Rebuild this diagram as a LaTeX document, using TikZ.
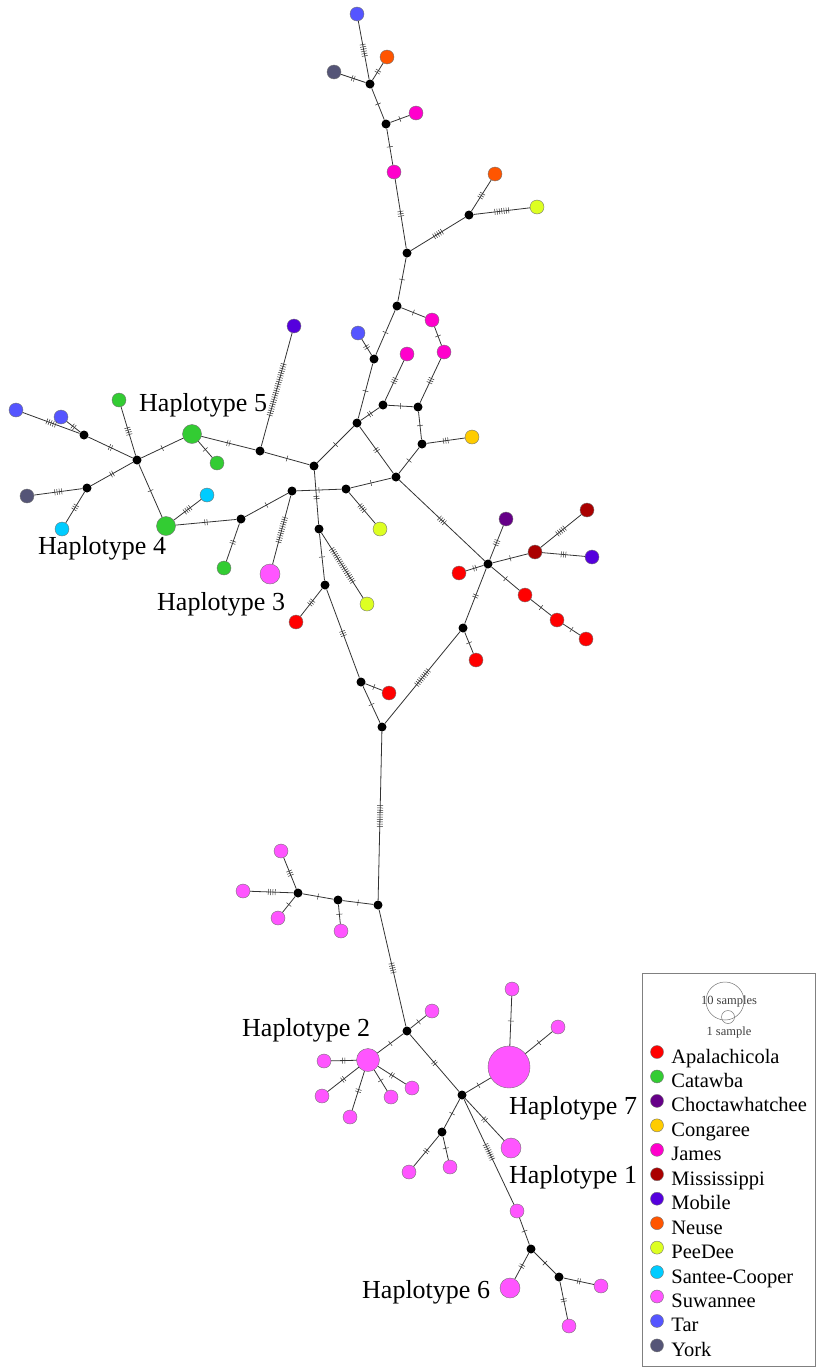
\documentclass[tikz,border=0pt]{standalone}
\usepackage{fontspec}
\setmainfont{Liberation Serif}
\usetikzlibrary{decorations.markings}

\definecolor{apalachicola}{HTML}{FF0000}
\definecolor{catawba}{HTML}{33CC33}
\definecolor{choctaw}{HTML}{660088}
\definecolor{congaree}{HTML}{FFCC00}
\definecolor{james}{HTML}{FF00CC}
\definecolor{mississippi}{HTML}{AA0000}
\definecolor{mobile}{HTML}{5500DD}
\definecolor{neuse}{HTML}{FF5500}
\definecolor{peedee}{HTML}{DDFF22}
\definecolor{santee}{HTML}{00CCFF}
\definecolor{suwannee}{HTML}{FF55FF}
\definecolor{tar}{HTML}{5555FF}
\definecolor{york}{HTML}{555577}

\tikzset{
  hap/.style={circle, draw=black!55, line width=0.4pt, fill=#1, minimum size=14pt, inner sep=0pt},
  med/.style={circle, fill=black, minimum size=9pt, inner sep=0pt},
  link/.style={draw=black!80, line width=0.8pt},
  mut/.style={postaction={decorate, decoration={markings, mark=at position 0.5 with {%
    \foreach \k in {1,...,#1} \draw[black!80, line width=0.5pt] ({(\k-(#1+1)/2)*2.3pt},-3pt) -- ++(0,6pt);}}}},
  hlabel/.style={font=\fontsize{26}{31}\selectfont, inner sep=0pt, anchor=base west},
  keytext/.style={font=\fontsize{20.5}{24}\selectfont, inner sep=0pt, anchor=base west},
}

\begin{document}
\begin{tikzpicture}[x=1pt, y=-1pt]
    \useasboundingbox (0,0) rectangle (817,1368);

    % top
    \node[hap=tar] (ta1) at (357,14) {};
    \node[hap=neuse] (ne1) at (387,57) {};
    \node[hap=york] (yo1) at (334,72) {};
    \node[med] (m1) at (370,84) {};
    \node[hap=james] (ja1) at (416,113) {};
    \node[med] (m2) at (386,124) {};
    \node[hap=james] (ja2) at (394,172) {};
    \node[hap=neuse] (ne2) at (495,174) {};
    \node[hap=peedee] (pd1) at (537,207) {};
    \node[med] (m3) at (469,215) {};
    \node[med] (m4) at (407,253) {};

    % middle
    \node[med] (m5) at (397,306) {};
    \node[hap=james] (ja3) at (432,320) {};
    \node[hap=james] (ja4) at (444,352) {};
    \node[hap=tar] (ta2) at (358,333) {};
    \node[med] (m6) at (374,359) {};
    \node[hap=james] (ja5) at (407,354) {};
    \node[med] (m7) at (383,405) {};
    \node[med] (m8) at (418,407) {};
    \node[med] (m9) at (357,423) {};
    \node[med] (m10) at (422,444) {};
    \node[hap=congaree] (co1) at (472,437) {};
    \node[med] (m11) at (314,466) {};
    \node[med] (m12) at (396,477) {};
    \node[med] (m13) at (292,491) {};
    \node[med] (m14) at (346,489) {};
    \node[hap=peedee] (pd2) at (380,529) {};
    \node[med] (m15) at (319,529) {};
    \node[med] (m16) at (325,585) {};
    \node[hap=peedee] (pd3) at (367,604) {};
    \node[hap=apalachicola] (ap1) at (296,622) {};
    \node[hap=choctaw] (ch1) at (506,519) {};
    \node[hap=mississippi] (mi1) at (587,510) {};
    \node[hap=mississippi] (mi2) at (535,552) {};
    \node[hap=mobile] (mo1) at (592,557) {};
    \node[med] (m17) at (488,564) {};
    \node[hap=apalachicola] (ap2) at (459,573) {};
    \node[hap=apalachicola] (ap3) at (525,595) {};
    \node[hap=apalachicola] (ap4) at (557,620) {};
    \node[hap=apalachicola] (ap5) at (586,639) {};
    \node[med] (m18) at (463,628) {};
    \node[hap=apalachicola] (ap6) at (476,660) {};
    \node[med] (m19) at (361,682) {};
    \node[hap=apalachicola] (ap7) at (389,693) {};
    \node[med] (m20) at (382,727) {};

    % left
    \node[hap=tar] (ta3) at (16,410) {};
    \node[hap=tar] (ta4) at (61,417) {};
    \node[med] (m21) at (84,435) {};
    \node[hap=catawba] (ca1) at (119,400) {};
    \node[hap=catawba, minimum size=19pt] (h5) at (192,434) {};
    \node[hap=catawba] (ca2) at (217,463) {};
    \node[med] (m22) at (137,460) {};
    \node[med] (m23) at (260,451) {};
    \node[hap=mobile] (mo2) at (294,326) {};
    \node[hap=york] (yo2) at (27,496) {};
    \node[med] (m24) at (87,488) {};
    \node[hap=santee] (sc1) at (62,529) {};
    \node[hap=catawba, minimum size=19pt] (h4) at (166,526) {};
    \node[hap=santee] (sc2) at (207,495) {};
    \node[med] (m25) at (241,519) {};
    \node[hap=catawba] (ca3) at (224,568) {};
    \node[hap=suwannee, minimum size=20pt] (h3) at (270,574) {};

    % bottom
    \node[med] (m26) at (378,905) {};
    \node[med] (m27) at (338,900) {};
    \node[med] (m28) at (298,893) {};
    \node[hap=suwannee] (su1) at (281,851) {};
    \node[hap=suwannee] (su2) at (243,891) {};
    \node[hap=suwannee] (su3) at (278,918) {};
    \node[hap=suwannee] (su4) at (341,931) {};
    \node[med] (m29) at (407,1031) {};
    \node[hap=suwannee] (su5) at (432,1011) {};
    \node[hap=suwannee, minimum size=23pt] (h2) at (368,1060) {};
    \node[hap=suwannee] (su6) at (324,1061) {};
    \node[hap=suwannee] (su7) at (322,1096) {};
    \node[hap=suwannee] (su8) at (350,1117) {};
    \node[hap=suwannee] (su9) at (391,1097) {};
    \node[hap=suwannee] (su10) at (412,1088) {};
    \node[med] (m30) at (462,1095) {};
    \node[hap=suwannee, minimum size=42pt] (h7) at (509,1067) {};
    \node[hap=suwannee] (su11) at (512,989) {};
    \node[hap=suwannee] (su12) at (558,1027) {};
    \node[hap=suwannee, minimum size=20pt] (h1) at (511,1148) {};
    \node[med] (m31) at (442,1132) {};
    \node[hap=suwannee] (su13) at (409,1172) {};
    \node[hap=suwannee] (su14) at (450,1167) {};
    \node[hap=suwannee] (su15) at (517,1211) {};
    \node[med] (m32) at (531,1249) {};
    \node[hap=suwannee, minimum size=20pt] (h6) at (510,1288) {};
    \node[med] (m33) at (559,1277) {};
    \node[hap=suwannee] (su16) at (601,1286) {};
    \node[hap=suwannee] (su17) at (569,1326) {};

    % links: from/to/mutations
    \foreach \a/\b/\n in {ta1/m1/6, yo1/m1/2, ne1/m1/2, m1/m2/1, m2/ja1/1, m2/ja2/1,
        ja2/m4/3, m4/m3/5, m3/ne2/3, m3/pd1/7, m4/m5/1}
        \draw[link, mut=\n] (\a) -- (\b);
    \foreach \a/\b/\n in {m5/ja3/1, ja3/ja4/1, ja4/m8/3, m5/m6/1, m6/ta2/2, m6/m9/1,
        m9/m7/2, m7/ja5/3, m7/m8/1, m8/m10/1, m10/co1/3, m10/m12/1, m12/m9/2,
        m9/m11/1, m11/m15/2, m13/m14/1, m14/m12/1, m14/pd2/4, m15/m16/1, m15/pd3/18,
        m16/ap1/3, m16/m19/3, m19/ap7/1, m19/m20/1, m20/m18/9, m18/ap6/1, m18/m17/2,
        m17/ap2/2, m17/ch1/3, m17/mi2/1, mi2/mi1/5, mi2/mo1/3, m17/ap3/1, ap3/ap4/1,
        ap4/ap5/1, m12/m17/4}
        \draw[link, mut=\n] (\a) -- (\b);
    \foreach \a/\b/\n in {ta3/m21/5, ta4/m21/2, m21/m22/2, ca1/m22/4, m22/h5/1,
        m22/m24/2, m24/yo2/4, m24/sc1/3, m22/h4/1, h4/sc2/4, h4/m25/2, m25/ca3/2,
        m25/m13/1, m13/h3/12, h5/ca2/1, h5/m23/2, m23/mo2/24, m23/m11/1}
        \draw[link, mut=\n] (\a) -- (\b);
    \foreach \a/\b/\n in {m20/m26/10, m26/m27/1, m27/su4/1, m27/m28/1, m28/su1/3,
        m28/su2/4, m28/su3/1, m26/m29/5, m29/su5/1, m29/h2/1, m29/m30/2, h2/su6/2,
        h2/su7/2, h2/su8/2, h2/su9/1, h2/su10/2, m30/h7/1, h7/su11/1, h7/su12/1,
        m30/h1/2, m30/m31/1, m31/su13/2, m31/su14/1, m30/su15/8, su15/m32/1,
        m32/h6/2, m32/m33/1, m33/su16/2, m33/su17/2}
        \draw[link, mut=\n] (\a) -- (\b);

    % labels
    \node[hlabel] (lab5) at (139,411) {Haplotype 5};
    \node[hlabel] (lab4) at (38,554) {Haplotype 4};
    \node[hlabel] (lab3) at (157,610) {Haplotype 3};
    \node[hlabel] (lab2) at (242,1036) {Haplotype 2};
    \node[hlabel] (lab7) at (509,1114) {Haplotype 7};
    \node[hlabel] (lab1) at (509,1183) {Haplotype 1};
    \node[hlabel] (lab6) at (362,1298) {Haplotype 6};

    % legend
    \draw[black!50, line width=0.6pt] (642,973) rectangle (815,1366);
    \draw[black!55, line width=0.5pt] (725,1001) circle (19);
    \draw[black!55, line width=0.5pt] (728,1017) circle (6.5);
    \node[font=\fontsize{12.5}{14}\selectfont, text=black!75, inner sep=0pt] (ten) at (729,1001) {10 samples};
    \node[font=\fontsize{12.5}{14}\selectfont, text=black!75, inner sep=0pt] (one) at (729,1032) {1 sample};
    \foreach \c/\t [count=\i] in {apalachicola/Apalachicola, catawba/Catawba,
        choctaw/Choctawhatchee, congaree/Congaree, james/James, mississippi/Mississippi,
        mobile/Mobile, neuse/Neuse, peedee/PeeDee, santee/Santee-Cooper,
        suwannee/Suwannee, tar/Tar, york/York}
    {
        \node[hap=\c, minimum size=13pt] (key\i) at (657,{1052+24.45*(\i-1)}) {};
        \node[keytext] (txt\i) at ([xshift=7.5pt, yshift=-11pt]key\i.east) {\t};
    }
\end{tikzpicture}
\end{document}
